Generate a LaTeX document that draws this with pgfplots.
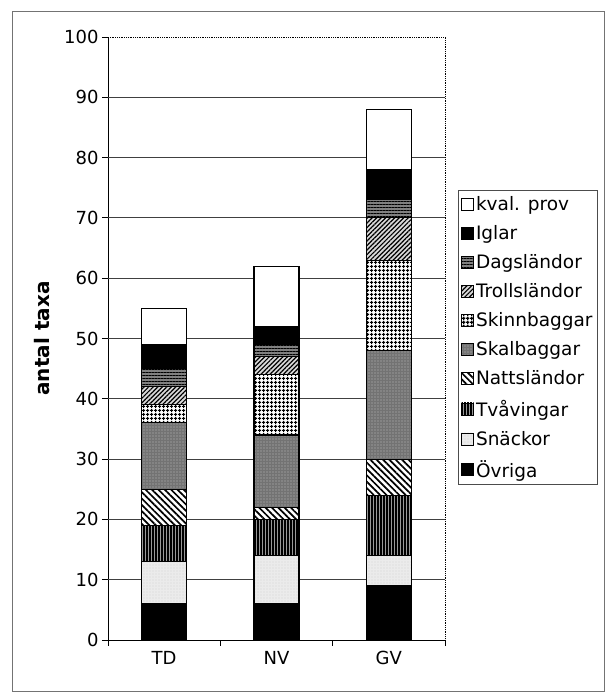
\documentclass[border=0pt]{standalone}
\usepackage{pgfplots}
\pgfplotsset{compat=1.18}
\usepackage{pgfplotstable}
\usepackage{fontspec}
\setmainfont{DejaVu Sans}
\usetikzlibrary{patterns,patterns.meta}

% antal taxa per grupp, nedifrån och upp
\pgfplotstableread{
x ovr sna tva nat ska ski tro dag igl kva
0 6 7 6 6 11 3 3 3 4 6
1 6 8 6 2 12 10 3 2 3 10
2 9 5 10 6 18 15 7 3 5 10
}\taxa

\begin{document}
\begin{tikzpicture}
\path[use as bounding box] (0,0) rectangle (608pt,694pt);
\draw[black!55, line width=1pt] (12pt,2pt) rectangle (604pt,682pt);
\begin{axis}[
  at={(108pt,54pt)}, anchor=south west,
  scale only axis, width=337pt, height=603pt,
  ybar stacked, bar width=45pt,
  xmin=-0.5, xmax=2.5, ymin=0, ymax=100,
  axis lines=left, axis line style={-, line width=0.8pt},
  tick align=outside, major tick length=6pt,
  tick style={black, line width=0.8pt},
  xtick={-0.5,0.5,1.5,2.5}, xticklabels={},
  extra x ticks={0,1,2}, extra x tick labels={TD,NV,GV},
  extra x tick style={major tick length=0pt, tick label style={yshift=-8pt}},
  ytick={0,10,...,100},
  extra y ticks={10,20,...,90}, extra y tick labels={},
  extra y tick style={grid=major, major tick length=0pt},
  grid style={black!75, line width=0.8pt},
  ticklabel style={font=\fontsize{18}{19}\selectfont},
  /pgf/number format/assume math mode=true,
  ylabel={antal taxa},
  ylabel style={font=\bfseries\fontsize{20}{22}\selectfont, at={(axis description cs:-0.196,0.5)}, anchor=center},
  every axis plot/.append style={draw=black, line width=1.1pt},
  reverse legend, legend cell align=left,
  legend image code/.code={\draw[#1, draw=black, line width=0.6pt] (0pt,-6pt) rectangle (12pt,6pt);},
  legend style={at={(axis description cs:1.0386,0.746)}, anchor=north west,
    draw=black!70, line width=0.8pt, font=\fontsize{18.5}{20}\selectfont,
    row sep=9.5pt, inner xsep=3pt, inner ysep=4pt},
  after end axis/.code={\draw[densely dotted, line width=0.8pt] (rel axis cs:0,1) -- (rel axis cs:1,1) -- (rel axis cs:1,0);},
]
\addplot[fill=black] table[x=x, y=ovr] {\taxa}; \addlegendentry{Övriga}
\addplot[fill=black!8, postaction={pattern={Dots[distance=3pt,radius=0.4pt]}, pattern color=black!35}] table[x=x, y=sna] {\taxa}; \addlegendentry{Snäckor}
\addplot[fill=black!40, postaction={pattern={Lines[angle=90,distance=3pt,line width=1.2pt]}}] table[x=x, y=tva] {\taxa}; \addlegendentry{Tvåvingar}
\addplot[fill=white, postaction={pattern={Lines[angle=-45,distance=4.5pt,line width=1.7pt]}}] table[x=x, y=nat] {\taxa}; \addlegendentry{Nattsländor}
\addplot[fill=black!55, postaction={pattern={Dots[distance=3pt,radius=0.7pt]}, pattern color=black!25}] table[x=x, y=ska] {\taxa}; \addlegendentry{Skalbaggar}
\addplot[fill=white, postaction={pattern={Hatch[angle=0,distance=4pt,line width=1.5pt]}}] table[x=x, y=ski] {\taxa}; \addlegendentry{Skinnbaggar}
\addplot[fill=black!15, postaction={pattern={Lines[angle=45,distance=3.2pt,line width=1.2pt]}}] table[x=x, y=tro] {\taxa}; \addlegendentry{Trollsländor}
\addplot[fill=black!50, postaction={pattern={Lines[angle=0,distance=3pt,line width=1pt]}}] table[x=x, y=dag] {\taxa}; \addlegendentry{Dagsländor}
\addplot[fill=black] table[x=x, y=igl] {\taxa}; \addlegendentry{Iglar}
\addplot[fill=white] table[x=x, y=kva] {\taxa}; \addlegendentry{kval. prov}
\end{axis}
\end{tikzpicture}
\end{document}
